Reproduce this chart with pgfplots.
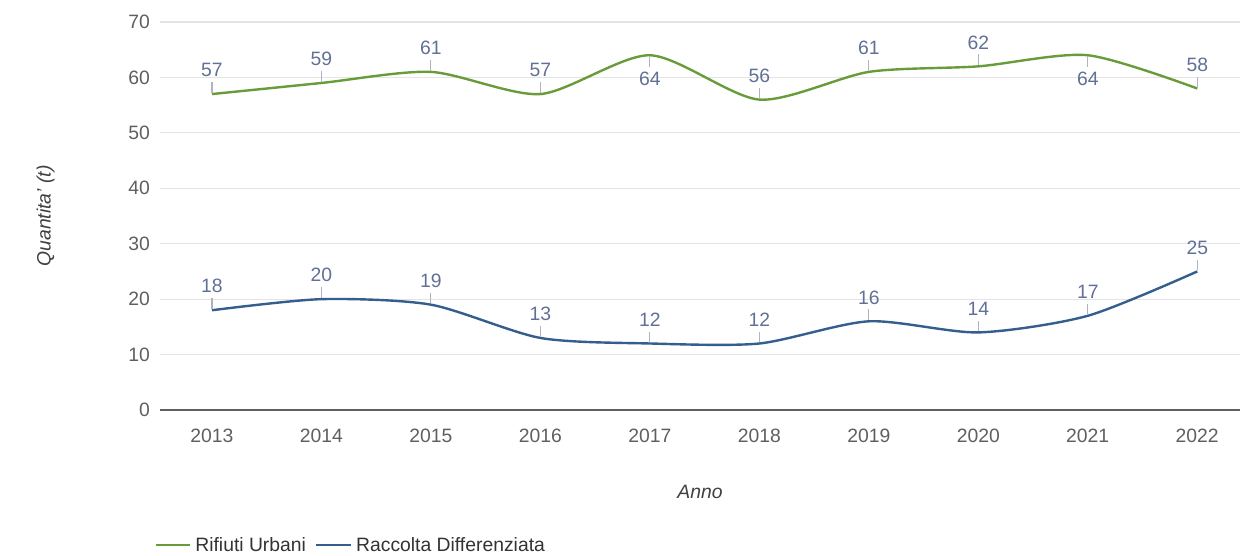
\documentclass[border=0pt]{standalone}
\usepackage{fontspec}
\setmainfont{Liberation Sans}
\usepackage{pgfplots}
\usepackage{pgfplotstable}
\pgfplotsset{compat=1.18}

\definecolor{rifiuti}{RGB}{104,156,58}
\definecolor{raccolta}{RGB}{52,94,142}
\definecolor{labtext}{RGB}{98,112,150}
\definecolor{pinline}{RGB}{175,180,195}
\definecolor{tickgray}{RGB}{95,95,95}
\definecolor{gridgray}{RGB}{228,228,228}

% anno, valori, direzione dell'etichetta (90 sopra, 270 sotto)
\pgfplotstableread{
anno rif rd arif ard
2013 57 18 90 90
2014 59 20 90 90
2015 61 19 90 90
2016 57 13 90 90
2017 64 12 270 90
2018 56 12 90 90
2019 61 16 90 90
2020 62 14 90 90
2021 64 17 270 90
2022 58 25 90 90
}\datatable

\newcommand{\bigfont}{\fontsize{14.5}{17}\selectfont}

\pgfplotsset{
    valuelabels/.style={
        draw=none, forget plot,
        point meta=explicit symbolic,
        visualization depends on={rawy \as \val},
        nodes near coords={\null},
        every node near coord/.style={inner sep=0pt, minimum size=0pt, anchor=center,
            pin={[pin distance=11pt, inner sep=0pt, font=\bigfont, text=labtext,
                  pin edge={draw=pinline, line width=0.8pt, shorten >=3pt}]\pgfplotspointmeta:\pgfmathprintnumber{\val}}},
    },
}

\begin{document}
\begin{tikzpicture}
\useasboundingbox (-120pt,-109.5pt) rectangle (813.75pt,307.5pt);
\begin{axis}[
    at={(0,0)}, anchor=south west,
    scale only axis,
    width=810pt, height=291pt,
    xmin=2012.525, xmax=2022.39,
    ymin=0, ymax=70,
    xtick={2013,...,2022},
    ytick={0,10,...,70},
    /pgf/number format/assume math mode=true,
    xticklabel={\pgfmathprintnumber[1000 sep={}]{\tick}},
    tick label style={font=\bigfont, text=tickgray},
    xticklabel style={yshift=-11pt},
    yticklabel style={xshift=-4pt},
    major tick length=0pt,
    ymajorgrids,
    grid style={draw=gridgray, line width=0.9pt},
    axis lines*=left,
    y axis line style={draw=none},
    x axis line style={draw=tickgray, line width=0.9pt, -},
    xlabel={Anno},
    ylabel={Quantita' (t)},
    every axis x label/.style={at={(axis description cs:0.5,-0.211)}, anchor=center,
        font=\bigfont\itshape, text=black!75},
    every axis y label/.style={at={(axis description cs:-0.106,0.5)}, anchor=center, rotate=90,
        font=\bigfont\itshape, text=black!75},
    legend style={
        at={(axis description cs:-0.009,-0.348)},
        anchor=west,
        legend columns=2,
        draw=none, fill=none,
        font=\bigfont, text=black!80,
        /tikz/every even column/.append style={column sep=4pt},
        nodes={inner sep=3pt},
    },
    legend image code/.code={
        \draw[#1, line width=1.6pt] (0pt,0pt) -- (26pt,0pt);
    },
    every axis plot/.append style={line width=1.8pt},
]
\addplot[rifiuti, smooth, tension=0.45] table[x=anno, y=rif] {\datatable};
\addlegendentry{Rifiuti Urbani}
\addplot[raccolta, smooth, tension=0.45] table[x=anno, y=rd] {\datatable};
\addlegendentry{Raccolta Differenziata}

% etichette dei valori con la loro lineetta
\addplot[valuelabels] table[x=anno, y=rif, meta=arif] {\datatable};
\addplot[valuelabels] table[x=anno, y=rd, meta=ard] {\datatable};
\end{axis}
\end{tikzpicture}
\end{document}
